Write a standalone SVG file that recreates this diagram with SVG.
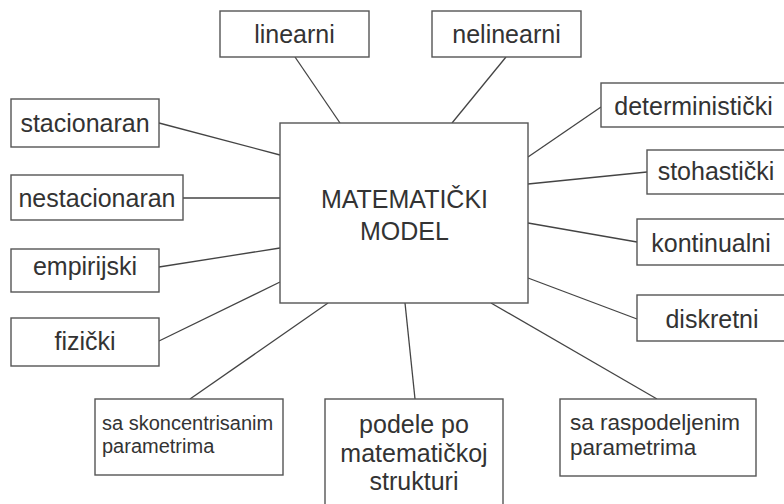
<svg xmlns="http://www.w3.org/2000/svg" width="784" height="504" viewBox="0 0 784 504">
<style>
.box{fill:#fff;stroke:#555;stroke-width:1.4}
.t{font-family:"Liberation Sans",Arial,sans-serif;font-size:25px;fill:#333;text-anchor:middle}
.s{font-family:"Liberation Sans",Arial,sans-serif;fill:#333}
.c line{stroke:#444;stroke-width:1.3}
</style>
<rect width="784" height="504" fill="#fff"/>
<g class="c" id="connectors">
<line x1="295" y1="57" x2="340" y2="123"/>
<line x1="506" y1="57" x2="452" y2="123"/>
<line x1="159" y1="123" x2="280" y2="155"/>
<line x1="183" y1="198" x2="280" y2="198"/>
<line x1="159" y1="267" x2="280" y2="248"/>
<line x1="159" y1="341" x2="280" y2="282"/>
<line x1="190" y1="399" x2="328" y2="303"/>
<line x1="415" y1="399" x2="405" y2="303"/>
<line x1="657" y1="399" x2="491" y2="303"/>
<line x1="601" y1="107" x2="528" y2="157"/>
<line x1="647" y1="172" x2="528" y2="184"/>
<line x1="637" y1="242" x2="528" y2="223"/>
<line x1="637" y1="319" x2="528" y2="278"/>
</g>
<g id="main"><rect class="box" x="280" y="123" width="248" height="180"/>
<text class="t" x="404.5" y="208" font-size="24.5">MATEMATIČKI</text>
<text class="t" x="404.5" y="240" font-size="24.5">MODEL</text></g>
<g id="linearni"><rect class="box" x="220" y="11" width="149" height="46"/><text class="t" x="294.5" y="43">linearni</text></g>
<g id="nelinearni"><rect class="box" x="432" y="11" width="149" height="46"/><text class="t" x="506.5" y="43">nelinearni</text></g>
<g id="stacionaran"><rect class="box" x="11" y="99" width="148" height="48"/><text class="t" x="85" y="132">stacionaran</text></g>
<g id="nestacionaran"><rect class="box" x="11" y="175" width="172" height="45"/><text class="t" x="97" y="207">nestacionaran</text></g>
<g id="empirijski"><rect class="box" x="11" y="249" width="148" height="43"/><text class="t" x="85" y="275">empirijski</text></g>
<g id="fizicki"><rect class="box" x="11" y="318" width="148" height="48"/><text class="t" x="85" y="350">fizički</text></g>
<g id="skoncentrisanim"><rect class="box" x="95" y="399" width="188" height="76"/><text class="s" x="102" y="430" font-size="20"><tspan x="102">sa skoncentrisanim</tspan><tspan x="102" y="453">parametrima</tspan></text></g>
<g id="podele"><rect class="box" x="325" y="399" width="178" height="112"/><text class="t" x="414" y="433">podele po</text><text class="t" x="414" y="462">matematičkoj</text><text class="t" x="414" y="490">strukturi</text></g>
<g id="raspodeljenim"><rect class="box" x="560" y="399" width="196" height="77"/><text class="s" x="570" y="430" font-size="22.5"><tspan x="570">sa raspodeljenim</tspan><tspan x="570" y="455">parametrima</tspan></text></g>
<g id="deterministicki"><rect class="box" x="601" y="83" width="186" height="44"/><text class="t" x="693.5" y="115">deterministički</text></g>
<g id="stohasticki"><rect class="box" x="647" y="150" width="140" height="44"/><text class="t" x="716" y="180">stohastički</text></g>
<g id="kontinualni"><rect class="box" x="637" y="219" width="150" height="46"/><text class="t" x="711" y="252">kontinualni</text></g>
<g id="diskretni"><rect class="box" x="637" y="295" width="150" height="46"/><text class="t" x="712" y="328">diskretni</text></g>
</svg>
